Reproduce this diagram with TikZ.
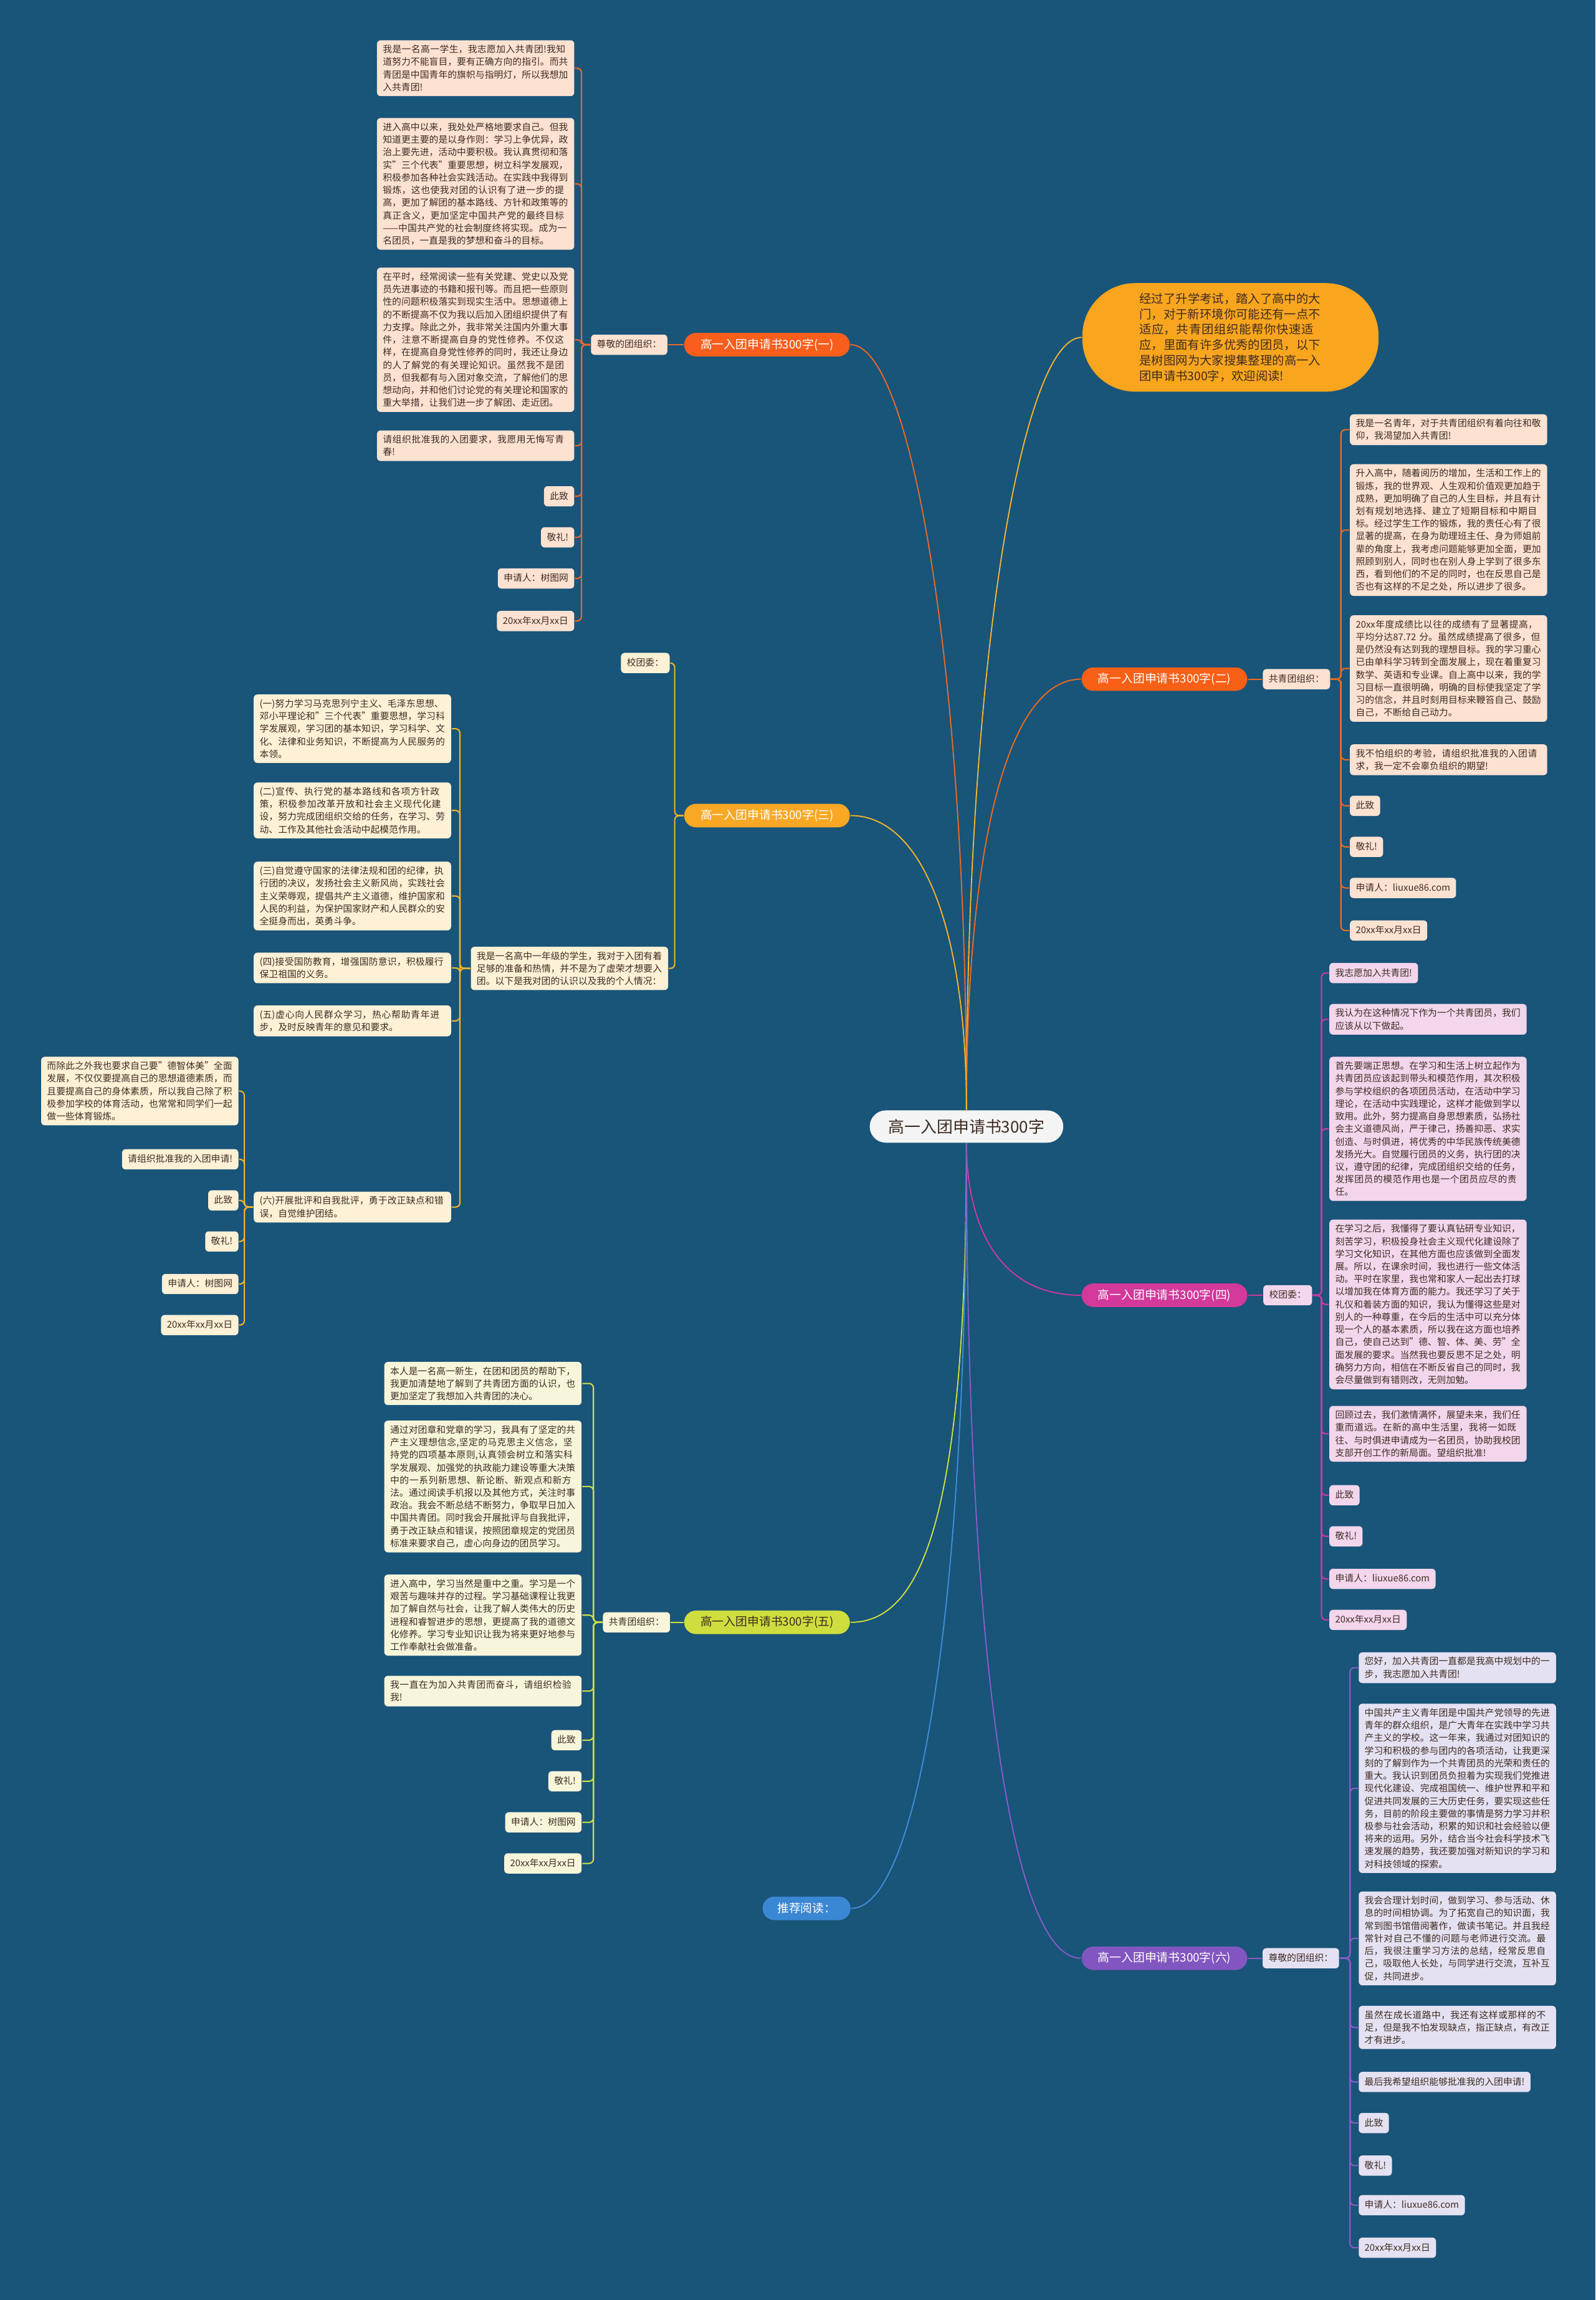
\documentclass[tikz,border=0pt]{standalone}
\usepackage{fontspec}
\setmainfont{Noto Sans CJK SC}
\usetikzlibrary{positioning, calc}
\XeTeXlinebreaklocale "zh"
\XeTeXlinebreakskip = 0pt plus 1pt

\definecolor{bgblue}{RGB}{25,84,121}
\definecolor{ink}{RGB}{62,44,34}
\definecolor{rootwhite}{RGB}{244,244,244}
% 分支颜色
\definecolor{colA}{RGB}{250,94,29}
\definecolor{colB}{RGB}{247,96,22}
\definecolor{colC}{RGB}{249,168,37}
\definecolor{colD}{RGB}{210,57,154}
\definecolor{colE}{RGB}{206,222,62}
\definecolor{colF}{RGB}{130,86,192}
\definecolor{colG}{RGB}{58,135,212}
\definecolor{colIntro}{RGB}{249,165,30}
% 连线颜色
\definecolor{lineA}{RGB}{232,106,43}
\definecolor{lineB}{RGB}{240,106,28}
\definecolor{lineC}{RGB}{240,181,44}
\definecolor{lineD}{RGB}{204,58,155}
\definecolor{lineE}{RGB}{207,224,63}
\definecolor{lineF}{RGB}{138,92,200}
\definecolor{lineG}{RGB}{62,143,216}
\definecolor{lineIntro}{RGB}{242,181,49}
% 正文框底色
\definecolor{peach}{RGB}{253,226,210}
\definecolor{cream}{RGB}{254,241,214}
\definecolor{lemon}{RGB}{247,246,219}
\definecolor{pinkish}{RGB}{243,214,236}
\definecolor{lavender}{RGB}{228,225,242}

\begin{document}
\begin{tikzpicture}[
    x=1pt, y=1pt,
    line width=0.9pt,
    font=\fontsize{6.3}{8.6}\selectfont,
    % 正文框
    para/.style={fill=#1, text=ink, rounded corners=2.5pt, inner xsep=4pt, inner ysep=3.2pt, align=left},
    parabox/.style={para=#1, text width=126.5pt},
    lbox/.style={parabox=#1, anchor=north east},
    rbox/.style={parabox=#1, anchor=north west},
    % 短标签框
    tagbox/.style={para=#1, text height=5.8pt, text depth=1.6pt},
    ltag/.style={tagbox=#1, anchor=north east},
    rtag/.style={tagbox=#1, anchor=north west},
    % 二级分支
    branch/.style={fill=#1, text=white, rounded corners=8pt, minimum height=16pt, minimum width=113pt, inner sep=1pt, font=\fontsize{8}{9}\selectfont},
    curve/.style={draw=#1, line width=0.8pt},
    bracket/.style={draw=#1, rounded corners=3pt}
]

    % --- 0. 背景 ---
    \fill [bgblue] (0,0) rectangle (1088,-1568);
    \useasboundingbox (0,0) rectangle (1088,-1568);

    % --- 1. 中心主题 ---
    \node [fill=rootwhite, text=ink, rounded corners=11pt, minimum width=132pt, minimum height=22pt,
           font=\fontsize{11}{13}\selectfont] (root) at (659,-768) {高一入团申请书300字};

    % --- 2. 分支节点 ---
    \node [branch=colA] (n1) at (523,-235) {高一入团申请书300字(一)};
    \node [branch=colB] (n2) at (794,-463) {高一入团申请书300字(二)};
    \node [branch=colC] (n3) at (523,-556) {高一入团申请书300字(三)};
    \node [branch=colD] (n4) at (794,-883) {高一入团申请书300字(四)};
    \node [branch=colE, text=ink] (n5) at (523,-1106) {高一入团申请书300字(五)};
    \node [branch=colF] (n6) at (794,-1335) {高一入团申请书300字(六)};
    \node [branch=colG, minimum width=60pt] (rec) at (550,-1301) {推荐阅读：};

    % 【导语气泡】
    \node [fill=colIntro, text=ink, rounded corners=36pt, minimum width=202pt, minimum height=74pt,
           text width=124pt, align=left, font=\fontsize{8.2}{10.6}\selectfont] (intro) at (839,-230)
        {经过了升学考试，踏入了高中的大门，对于新环境你可能还有一点不适应，共青团组织能帮你快速适应，里面有许多优秀的团员，以下是树图网为大家搜集整理的高一入团申请书300字，欢迎阅读!};

    % 中心到分支的曲线
    \draw [curve=lineA] (root.north) .. controls +(0,310) and +(40,0) .. (n1.east);
    \draw [curve=lineIntro] (root.north) .. controls +(0,310) and +(-40,0) .. (intro.west);
    \draw [curve=lineB] (root.north) .. controls +(0,180) and +(-50,0) .. (n2.west);
    \draw [curve=lineC] (root.north) .. controls +(0,120) and +(50,0) .. (n3.east);
    \draw [curve=lineD] (root.south) .. controls +(0,-50) and +(-60,0) .. (n4.west);
    \draw [curve=lineE] (root.south) .. controls +(0,-250) and +(50,0) .. (n5.east);
    \draw [curve=lineG] (root.south) .. controls +(0,-320) and +(45,0) .. (rec.east);
    \draw [curve=lineF] (root.south) .. controls +(0,-330) and +(-50,0) .. (n6.west);

    % --- 3. (一) 左上 ---
    \node [tagbox=peach] (l1) at (429,-235) {尊敬的团组织：};
    \node [lbox=peach] (a1) at (392,-27) {我是一名高一学生，我志愿加入共青团!我知道努力不能盲目，要有正确方向的指引。而共青团是中国青年的旗帜与指明灯，所以我想加入共青团!};
    \node [lbox=peach] (a2) at (392,-80) {进入高中以来，我处处严格地要求自己。但我知道更主要的是以身作则：学习上争优异，政治上要先进，活动中要积极。我认真贯彻和落实"三个代表"重要思想，树立科学发展观，积极参加各种社会实践活动。在实践中我得到锻炼，这也使我对团的认识有了进一步的提高，更加了解团的基本路线、方针和政策等的真正含义，更加坚定中国共产党的最终目标——中国共产党的社会制度终将实现。成为一名团员，一直是我的梦想和奋斗的目标。};
    \node [lbox=peach] (a3) at (392,-182) {在平时，经常阅读一些有关党建、党史以及党员先进事迹的书籍和报刊等。而且把一些原则性的问题积极落实到现实生活中。思想道德上的不断提高不仅为我以后加入团组织提供了有力支撑。除此之外，我非常关注国内外重大事件，注意不断提高自身的党性修养。不仅这样，在提高自身党性修养的同时，我还让身边的人了解党的有关理论知识。虽然我不是团员，但我都有与入团对象交流，了解他们的思想动向，并和他们讨论党的有关理论和国家的重大举措，让我们进一步了解团、走近团。};
    \node [lbox=peach] (a4) at (392,-293) {请组织批准我的入团要求，我愿用无悔写青春!};
    \node [ltag=peach] (a5) at (392,-331) {此致};
    \node [ltag=peach] (a6) at (392,-359) {敬礼!};
    \node [ltag=peach] (a7) at (392,-387) {申请人：树图网};
    \node [ltag=peach] (a8) at (392,-416) {20xx年xx月xx日};
    \draw [lineA] (n1.west) -- (l1.east);
    \foreach \k in {1,...,8}
        \draw [bracket=lineA] (l1.west) -- ++(-6,0) |- (a\k.east);

    % --- 4. (二) 右上 ---
    \node [tagbox=peach] (l2) at (884,-463) {共青团组织：};
    \node [rbox=peach] (b1) at (920,-282) {我是一名青年，对于共青团组织有着向往和敬仰，我渴望加入共青团!};
    \node [rbox=peach] (b2) at (920,-316) {升入高中，随着阅历的增加，生活和工作上的锻炼，我的世界观、人生观和价值观更加趋于成熟，更加明确了自己的人生目标，并且有计划有规划地选择、建立了短期目标和中期目标。经过学生工作的锻炼，我的责任心有了很显著的提高，在身为助理班主任、身为师姐前辈的角度上，我考虑问题能够更加全面，更加照顾到别人，同时也在别人身上学到了很多东西，看到他们的不足的同时，也在反思自己是否也有这样的不足之处，所以进步了很多。};
    \node [rbox=peach] (b3) at (920,-419) {20xx年度成绩比以往的成绩有了显著提高，平均分达87.72 分。虽然成绩提高了很多，但是仍然没有达到我的理想目标。我的学习重心已由单科学习转到全面发展上，现在着重复习数学、英语和专业课。自上高中以来，我的学习目标一直很明确，明确的目标使我坚定了学习的信念，并且时刻用目标来鞭笞自己、鼓励自己，不断给自己动力。};
    \node [rbox=peach] (b4) at (920,-507) {我不怕组织的考验，请组织批准我的入团请求，我一定不会辜负组织的期望!};
    \node [rtag=peach] (b5) at (920,-542) {此致};
    \node [rtag=peach] (b6) at (920,-570) {敬礼!};
    \node [rtag=peach] (b7) at (920,-598) {申请人：liuxue86.com};
    \node [rtag=peach] (b8) at (920,-627) {20xx年xx月xx日};
    \draw [lineB] (n2.east) -- (l2.west);
    \foreach \k in {1,...,8}
        \draw [bracket=lineB] (l2.east) -- ++(7,0) |- (b\k.west);

    % --- 5. (三) 左中 ---
    \node [tagbox=cream] (c0) at (440,-452) {校团委：};
    \node [lbox=cream] (c1) at (456,-645) {我是一名高中一年级的学生，我对于入团有着足够的准备和热情，并不是为了虚荣才想要入团。以下是我对团的认识以及我的个人情况：};
    \draw [bracket=lineC] (n3.west) -- ++(-6,0) |- (c0.east);
    \draw [bracket=lineC] (n3.west) -- ++(-6,0) |- (c1.east);

    \node [lbox=cream] (d1) at (308,-473) {(一)努力学习马克思列宁主义、毛泽东思想、邓小平理论和"三个代表"重要思想，学习科学发展观，学习团的基本知识，学习科学、文化、法律和业务知识，不断提高为人民服务的本领。};
    \node [lbox=cream] (d2) at (308,-533) {(二)宣传、执行党的基本路线和各项方针政策，积极参加改革开放和社会主义现代化建设，努力完成团组织交给的任务，在学习、劳动、工作及其他社会活动中起模范作用。};
    \node [lbox=cream] (d3) at (308,-587) {(三)自觉遵守国家的法律法规和团的纪律，执行团的决议，发扬社会主义新风尚，实践社会主义荣辱观，提倡共产主义道德，维护国家和人民的利益，为保护国家财产和人民群众的安全挺身而出，英勇斗争。};
    \node [lbox=cream] (d4) at (308,-649) {(四)接受国防教育，增强国防意识，积极履行保卫祖国的义务。};
    \node [lbox=cream] (d5) at (308,-685) {(五)虚心向人民群众学习，热心帮助青年进步，及时反映青年的意见和要求。};
    \node [lbox=cream] (d6) at (308,-812) {(六)开展批评和自我批评，勇于改正缺点和错误，自觉维护团结。};
    \foreach \k in {1,...,6}
        \draw [bracket=lineC] (c1.west) -- ++(-7,0) |- (d\k.east);

    \node [lbox=cream] (e1) at (163,-720) {而除此之外我也要求自己要"德智体美"全面发展，不仅仅要提高自己的思想道德素质，而且要提高自己的身体素质，所以我自己除了积极参加学校的体育活动，也常常和同学们一起做一些体育锻炼。};
    \node [ltag=cream] (e2) at (163,-783) {请组织批准我的入团申请!};
    \node [ltag=cream] (e3) at (163,-811) {此致};
    \node [ltag=cream] (e4) at (163,-839) {敬礼!};
    \node [ltag=cream] (e5) at (163,-868) {申请人：树图网};
    \node [ltag=cream] (e6) at (163,-896) {20xx年xx月xx日};
    \foreach \k in {1,...,6}
        \draw [bracket=lineC] (d6.west) -- ++(-6,0) |- (e\k.east);

    % --- 6. (四) 右中 ---
    \node [tagbox=pinkish] (f0) at (878,-883) {校团委：};
    \node [rtag=pinkish] (f1) at (906,-656) {我志愿加入共青团!};
    \node [rbox=pinkish] (f2) at (906,-684) {我认为在这种情况下作为一个共青团员，我们应该从以下做起。};
    \node [rbox=pinkish] (f3) at (906,-720) {首先要端正思想。在学习和生活上树立起作为共青团员应该起到带头和模范作用，其次积极参与学校组织的各项团员活动，在活动中学习理论，在活动中实践理论，这样才能做到学以致用。此外，努力提高自身思想素质，弘扬社会主义道德风尚，严于律己，扬善抑恶、求实创造、与时俱进，将优秀的中华民族传统美德发扬光大。自觉履行团员的义务，执行团的决议，遵守团的纪律，完成团组织交给的任务，发挥团员的模范作用也是一个团员应尽的责任。};
    \node [rbox=pinkish] (f4) at (906,-831) {在学习之后，我懂得了要认真钻研专业知识，刻苦学习，积极投身社会主义现代化建设除了学习文化知识，在其他方面也应该做到全面发展。所以，在课余时间，我也进行一些文体活动。平时在家里，我也常和家人一起出去打球以增加我在体育方面的能力。我还学习了关于礼仪和着装方面的知识，我认为懂得这些是对别人的一种尊重，在今后的生活中可以充分体现一个人的基本素质，所以我在这方面也培养自己，使自己达到"德、智、体、美、劳"全面发展的要求。当然我也要反思不足之处，明确努力方向，相信在不断反省自己的同时，我会尽量做到有错则改，无则加勉。};
    \node [rbox=pinkish] (f5) at (906,-958) {回顾过去，我们激情满怀，展望未来，我们任重而道远。在新的高中生活里，我将一如既往、与时俱进申请成为一名团员，协助我校团支部开创工作的新局面。望组织批准!};
    \node [rtag=pinkish] (f6) at (906,-1012) {此致};
    \node [rtag=pinkish] (f7) at (906,-1040) {敬礼!};
    \node [rtag=pinkish] (f8) at (906,-1069) {申请人：liuxue86.com};
    \node [rtag=pinkish] (f9) at (906,-1097) {20xx年xx月xx日};
    \draw [lineD] (n4.east) -- (f0.west);
    \foreach \k in {1,...,9}
        \draw [bracket=lineD] (f0.east) -- ++(6,0) |- (f\k.west);

    % --- 7. (五) 左下 ---
    \node [tagbox=lemon] (g0) at (434,-1106) {共青团组织：};
    \node [lbox=lemon] (g1) at (397,-928) {本人是一名高一新生，在团和团员的帮助下，我更加清楚地了解到了共青团方面的认识，也更加坚定了我想加入共青团的决心。};
    \node [lbox=lemon] (g2) at (397,-968) {通过对团章和党章的学习，我具有了坚定的共产主义理想信念,坚定的马克思主义信念，坚持党的四项基本原则,认真领会树立和落实科学发展观、加强党的执政能力建设等重大决策中的一系列新思想、新论断、新观点和新方法。通过阅读手机报以及其他方式，关注时事政治。我会不断总结不断努力，争取早日加入中国共青团。同时我会开展批评与自我批评，勇于改正缺点和错误，按照团章规定的党团员标准来要求自己，虚心向身边的团员学习。};
    \node [lbox=lemon] (g3) at (397,-1073) {进入高中，学习当然是重中之重。学习是一个艰苦与趣味并存的过程。学习基础课程让我更加了解自然与社会，让我了解人类伟大的历史进程和睿智进步的思想，更提高了我的道德文化修养。学习专业知识让我为将来更好地参与工作奉献社会做准备。};
    \node [lbox=lemon] (g4) at (397,-1142) {我一直在为加入共青团而奋斗，请组织检验我!};
    \node [ltag=lemon] (g5) at (397,-1179) {此致};
    \node [ltag=lemon] (g6) at (397,-1207) {敬礼!};
    \node [ltag=lemon] (g7) at (397,-1235) {申请人：树图网};
    \node [ltag=lemon] (g8) at (397,-1263) {20xx年xx月xx日};
    \draw [lineE] (n5.west) -- (g0.east);
    \foreach \k in {1,...,8}
        \draw [bracket=lineE] (g0.west) -- ++(-6,0) |- (g\k.east);

    % --- 8. (六) 右下 ---
    \node [tagbox=lavender] (h0) at (887,-1335) {尊敬的团组织：};
    \node [rbox=lavender] (h1) at (926,-1126) {您好，加入共青团一直都是我高中规划中的一步，我志愿加入共青团!};
    \node [rbox=lavender] (h2) at (926,-1161) {中国共产主义青年团是中国共产党领导的先进青年的群众组织，是广大青年在实践中学习共产主义的学校。这一年来，我通过对团知识的学习和积极的参与团内的各项活动，让我更深刻的了解到作为一个共青团员的光荣和责任的重大。我认识到团员负担着为实现我们党推进现代化建设、完成祖国统一、维护世界和平和促进共同发展的三大历史任务，要实现这些任务，目前的阶段主要做的事情是努力学习并积极参与社会活动，积累的知识和社会经验以便将来的运用。另外，结合当今社会科学技术飞速发展的趋势，我还要加强对新知识的学习和对科技领域的探索。};
    \node [rbox=lavender] (h3) at (926,-1289) {我会合理计划时间，做到学习、参与活动、休息的时间相协调。为了拓宽自己的知识面，我常到图书馆借阅著作，做读书笔记。并且我经常针对自己不懂的问题与老师进行交流。最后，我很注重学习方法的总结，经常反思自己，吸取他人长处，与同学进行交流，互补互促，共同进步。};
    \node [rbox=lavender] (h4) at (926,-1367) {虽然在成长道路中，我还有这样或那样的不足，但是我不怕发现缺点，指正缺点，有改正才有进步。};
    \node [rtag=lavender] (h5) at (926,-1412) {最后我希望组织能够批准我的入团申请!};
    \node [rtag=lavender] (h6) at (926,-1440) {此致};
    \node [rtag=lavender] (h7) at (926,-1469) {敬礼!};
    \node [rtag=lavender] (h8) at (926,-1496) {申请人：liuxue86.com};
    \node [rtag=lavender] (h9) at (926,-1525) {20xx年xx月xx日};
    \draw [lineF] (n6.east) -- (h0.west);
    \foreach \k in {1,...,9}
        \draw [bracket=lineF] (h0.east) -- ++(7,0) |- (h\k.west);

\end{tikzpicture}
\end{document}
